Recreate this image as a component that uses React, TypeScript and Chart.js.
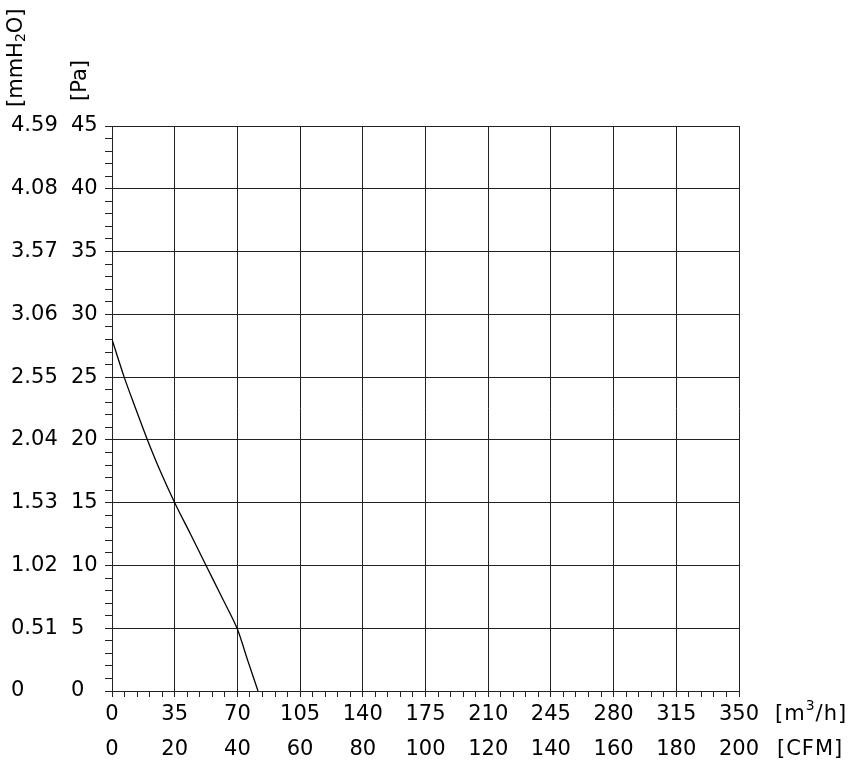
import React, { useEffect, useRef } from 'react';
import { Chart, registerables } from 'chart.js';

Chart.register(...registerables);

// Fan curve: airflow [m3/h] vs static pressure [Pa]
const flowM3h = [0, 6.8, 13.2, 19.8, 27.0, 35, 43.8, 52.5, 61.2, 69.8, 75.6, 81.5];
const pressurePa = [28, 25, 22.5, 20, 17.5, 15, 12.5, 10, 7.5, 5, 2.5, 0];

// Tick labels
const xTicksM3h = ['0', '35', '70', '105', '140', '175', '210', '245', '280', '315', '350'];
const xTicksCFM = ['0', '20', '40', '60', '80', '100', '120', '140', '160', '180', '200'];
const yTicksPa = ['0', '5', '10', '15', '20', '25', '30', '35', '40', '45'];
const yTicksMmH2O = ['0', '0.51', '1.02', '1.53', '2.04', '2.55', '3.06', '3.57', '4.08', '4.59'];

const FONT = 'DejaVu Sans';
const FS = 21;
const GRID = '#222';

const titlesPlugin = {
  id: 'titles',
  afterDraw(chart: any) {
    const ctx = chart.ctx as CanvasRenderingContext2D;
    ctx.save();
    ctx.fillStyle = '#000';
    ctx.textBaseline = 'middle';
    ctx.textAlign = 'left';
    const big = `${FS}px "${FONT}"`;
    const small = `14px "${FONT}"`;

    // rotated y titles
    const drawRot = (x: number, y: number, parts: { t: string; sub?: boolean }[]) => {
      ctx.save();
      ctx.translate(x, y);
      ctx.rotate(-Math.PI / 2);
      let cx = 0;
      for (const p of parts) {
        ctx.font = p.sub ? small : big;
        ctx.fillText(p.t, cx, p.sub ? 4 : 0);
        cx += ctx.measureText(p.t).width;
      }
      ctx.restore();
    };
    drawRot(17, 107, [{ t: '[mmH' }, { t: '2', sub: true }, { t: 'O]' }]);
    drawRot(81, 101, [{ t: '[Pa]' }]);

    // x unit labels
    const xs = chart.scales.x;
    const row1 = xs.top + 6 + 17.5;
    const row2 = row1 + 35;
    (ctx as any).letterSpacing = '1px';
    let cx = 775;
    ctx.font = big;
    ctx.fillText('[m', cx, row1);
    cx += ctx.measureText('[m').width;
    ctx.font = small;
    ctx.fillText('3', cx, row1 - 8);
    cx += ctx.measureText('3').width;
    ctx.font = big;
    ctx.fillText('/h]', cx, row1);
    ctx.fillText('[CFM]', 777, row2);
    ctx.restore();
  },
};

export default function App() {
  const ref = useRef<HTMLCanvasElement>(null);

  useEffect(() => {
    if (!ref.current) return;
    const chart = new Chart(ref.current, {
      type: 'line',
      data: {
        datasets: [
          {
            data: flowM3h.map((x, i) => ({ x, y: pressurePa[i] })),
            borderColor: '#000',
            borderWidth: 1.3,
            pointRadius: 0,
            fill: false,
            tension: 0.3,
          },
        ],
      },
      options: {
        animation: false,
        responsive: true,
        maintainAspectRatio: false,
        layout: { padding: { left: 11, top: 126, right: 114, bottom: 0 } },
        plugins: { legend: { display: false }, tooltip: { enabled: false } },
        scales: {
          x: {
            type: 'linear',
            position: 'bottom',
            min: 0,
            max: 350,
            afterFit: (s: any) => {
              s.height = 73;
            },
            ticks: {
              stepSize: 7,
              autoSkip: false,
              maxRotation: 0,
              padding: 0,
              color: '#000',
              font: { family: FONT, size: FS, lineHeight: 35 / FS },
              callback: (v: any) => {
                const i = Math.round(v / 35);
                return Math.abs(v - i * 35) < 1e-6 ? [xTicksM3h[i], xTicksCFM[i]] : '';
              },
            },
            grid: {
              color: (c: any) => (c.tick && Math.abs(c.tick.value % 35) < 1e-6 ? GRID : 'rgba(0,0,0,0)'),
              tickColor: GRID,
              tickLength: 6,
              lineWidth: 1,
            },
            border: { color: GRID, width: 1 },
          },
          y: {
            type: 'linear',
            position: 'left',
            weight: 0,
            min: 0,
            max: 45,
            afterFit: (s: any) => {
              s.width = 41;
            },
            ticks: {
              stepSize: 1,
              autoSkip: false,
              crossAlign: 'far',
              color: '#000',
              font: { family: FONT, size: FS },
              callback: (v: any) => (Math.round(v) % 5 === 0 ? yTicksPa[Math.round(v / 5)] : ''),
            },
            grid: {
              color: (c: any) => (c.tick && Math.round(c.tick.value) % 5 === 0 ? GRID : 'rgba(0,0,0,0)'),
              tickColor: GRID,
              tickLength: 7,
              lineWidth: 1,
            },
            border: { color: GRID, width: 1 },
          },
          y2: {
            type: 'linear',
            position: 'left',
            weight: 1,
            min: 0,
            max: 45,
            afterFit: (s: any) => {
              s.width = 60;
            },
            ticks: {
              stepSize: 5,
              autoSkip: false,
              crossAlign: 'far',
              color: '#000',
              font: { family: FONT, size: FS },
              callback: (v: any) => yTicksMmH2O[Math.round(v / 5)],
            },
            grid: { display: false, drawTicks: false },
            border: { display: false },
          },
        },
      },
      plugins: [titlesPlugin],
    });
    return () => chart.destroy();
  }, []);

  return (
    <div style={{ position: 'fixed', left: 0, top: 0, width: 853, height: 764, background: '#fff' }}>
      <canvas ref={ref} />
    </div>
  );
}
